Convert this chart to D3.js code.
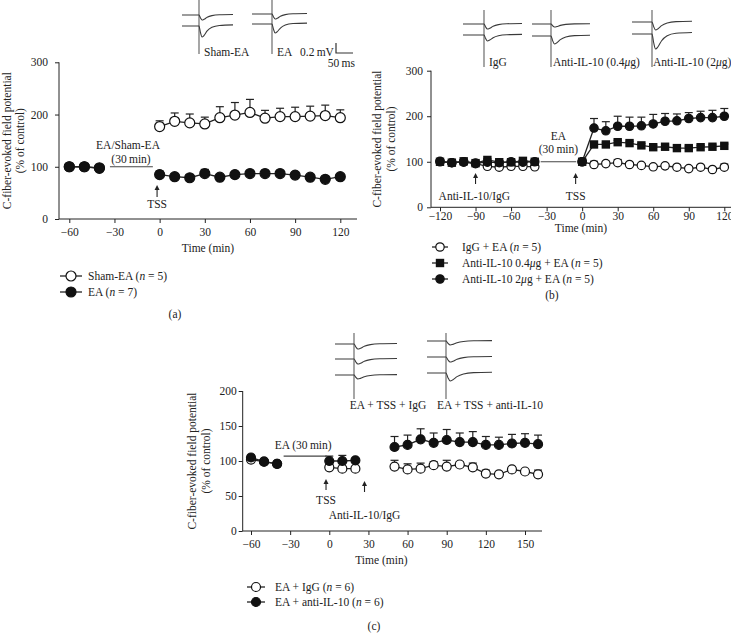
<!DOCTYPE html>
<html><head><meta charset="utf-8">
<script src="https://cdn.jsdelivr.net/npm/d3@7"></script>
<style>
body{margin:0;background:#fff}
text{font-family:"Liberation Serif","Times New Roman",serif;fill:#222;font-size:11.5px}
</style>
</head><body>
<svg id="c" width="731" height="644" xmlns="http://www.w3.org/2000/svg"></svg>
<script>
// ---------------- DATA ----------------
// Panel (a)
const timesA = [-60,-50,-40,0,10,20,30,40,50,60,70,80,90,100,110,120];
const shamA    = [100,100,98,177,187,184,182,194,199,204,193,196,196,197,198,194];
const shamAErr = [0,0,0,11,16,17,13,21,24,25,15,16,18,19,20,15];
const eaA      = [100,100,97,85,81,79,87,80,85,87,87,87,84,80,76,81];
const eaAErr   = [3,3,3,7,6,6,8,4,6,5,6,5,5,3,3,3];
const xTicksA = [-60,-30,0,30,60,90,120];
const yTicksA = [0,100,200,300];

// Panel (b)
const timesB = [-120,-110,-100,-90,-80,-70,-60,-50,-40,0,10,20,30,40,50,60,70,80,90,100,110,120];
const iggB      = [100,98,99,96,90,88,90,90,89,100,94,96,98,94,92,89,91,88,85,88,83,88];
const iggBErr   = [3,3,3,3,3,3,3,3,3,3,7,5,7,4,4,4,4,4,4,4,4,7];
const anti04B   = [100,98,101,97,104,99,99,102,100,100,138,138,143,141,136,132,133,130,130,132,133,135];
const anti04BErr= [3,2,3,3,3,3,3,3,3,3,5,4,4,4,4,4,4,4,4,4,4,4];
const anti2B    = [101,98,100,97,99,98,100,99,100,100,174,168,178,178,179,183,189,190,195,197,197,200];
const anti2BErr = [3,3,3,3,3,3,3,3,3,3,21,20,22,20,19,21,17,15,13,14,16,17];
const xTicksB = [-120,-90,-60,-30,0,30,60,90,120];
const yTicksB = [0,100,200,300];

// Panel (c)
const timesC = [-60,-50,-40,0,10,20,50,60,70,80,90,100,110,120,130,140,150,160];
const iggC     = [102,99,96,91,89,89,92,88,89,94,92,95,91,82,81,88,85,81];
const iggCErr  = [2,2,2,4,3,3,9,8,8,5,9,4,6,5,4,4,3,6];
const antiC    = [105,99,96,100,100,101,120,123,131,126,130,127,127,123,123,125,126,124];
const antiCErr = [3,3,3,7,8,3,15,14,15,14,15,13,15,12,11,13,13,13];
const xTicksC = [-60,-30,0,30,60,90,120,150];
const yTicksC = [0,50,100,150,200];

// Example trace shape (relative to stimulus), shared by insets
const traceShapeT = [-1,0,0.04,0.09,0.15,0.24,0.38,0.6,1];
const traceShapeV = [0,0,0.55,1.0,0.85,0.45,0.12,-0.05,-0.1];

// ---------------- DRAW ----------------
const svg = d3.select("#c");
const INK = "#222";

function panel(cfg){
  const g = svg.append("g");
  const x = d3.scaleLinear().domain(cfg.xd).range(cfg.xr);
  const y = d3.scaleLinear().domain(cfg.yd).range(cfg.yr);
  const x0 = cfg.axisX0, x1 = cfg.axisX1;
  const ax = g.append("g").attr("transform",`translate(0,${y(0)})`)
    .call(d3.axisBottom(x).tickValues(cfg.xt).tickSize(4).tickSizeOuter(0).tickPadding(cfg.xtPad).tickFormat(d=>d<0?"\u2212"+(-d):d));
  ax.select(".domain").remove();
  ax.selectAll("line").attr("stroke",INK);
  ax.selectAll("text").attr("font-size","11.5px").attr("font-family",null);
  g.append("line").attr("x1",x0).attr("x2",x1).attr("y1",y(0)).attr("y2",y(0)).attr("stroke",INK);
  const ay = g.append("g").attr("transform",`translate(${x0},0)`)
    .call(d3.axisLeft(y).tickValues(cfg.yt).tickSize(4).tickSizeOuter(0).tickPadding(cfg.ytPad));
  ay.select(".domain").remove();
  ay.selectAll("line").attr("stroke",INK);
  ay.selectAll("text").attr("font-size","11.5px").attr("font-family",null);
  g.append("line").attr("x1",x0).attr("x2",x0).attr("y1",y(cfg.yd[1])).attr("y2",y(0)).attr("stroke",INK);
  g.append("text").attr("x",(x0+x1)/2+cfg.xtOff).attr("y",y(0)+cfg.xtDy).attr("text-anchor","middle").text("Time (min)");
  const ly = (y(0)+y(cfg.yd[1]))/2;
  g.append("text").attr("transform",`translate(${cfg.yl1},${ly}) rotate(-90)`).attr("text-anchor","middle").text("C-fiber-evoked field potential");
  g.append("text").attr("transform",`translate(${cfg.yl2},${ly}) rotate(-90)`).attr("text-anchor","middle").text("(% of control)");

  cfg.series.forEach(s=>{
    const pts = cfg.t.map((t,i)=>({t,v:s.v[i],e:s.e[i]}));
    const segs=[]; let cur=[];
    pts.forEach((p,i)=>{ if(i>0 && p.t-pts[i-1].t>10){segs.push(cur);cur=[];} cur.push(p);});
    segs.push(cur);
    const line = d3.line().x(d=>x(d.t)).y(d=>y(d.v));
    pts.forEach(p=>{
      if(!p.e) return;
      g.append("line").attr("x1",x(p.t)).attr("x2",x(p.t)).attr("y1",y(p.v)).attr("y2",y(p.v+p.e)).attr("stroke",INK).attr("stroke-width",1.2);
      g.append("line").attr("x1",x(p.t)-cfg.cap).attr("x2",x(p.t)+cfg.cap).attr("y1",y(p.v+p.e)).attr("y2",y(p.v+p.e)).attr("stroke",INK).attr("stroke-width",1.2);
    });
    segs.forEach(sg=>g.append("path").attr("d",line(sg)).attr("fill","none").attr("stroke",INK).attr("stroke-width",1.3));
    pts.forEach(p=>marker(g,s.m,x(p.t),y(p.v),cfg.r));
  });

  const a = cfg.ann;
  g.append("line").attr("x1",x(a.l0)).attr("x2",x(a.l1)).attr("y1",y(a.lv)).attr("y2",y(a.lv)).attr("stroke","#444").attr("stroke-width",1.2);
  a.texts.forEach(t=>g.append("text").attr("x",x(t.t)).attr("y",t.y).attr("text-anchor","middle").text(t.s));
  a.arrows.forEach(r=>arrow(g,x(r.t),r.y0,r.y1));

  cfg.legend.forEach((l,i)=>{
    const ly=cfg.legY[i];
    g.append("line").attr("x1",cfg.legX).attr("x2",cfg.legX+cfg.legW).attr("y1",ly).attr("y2",ly).attr("stroke",INK).attr("stroke-width",1.3);
    marker(g,l.m,cfg.legX+cfg.legW/2,ly,cfg.r);
    const tx=g.append("text").attr("x",cfg.legX+cfg.legW+cfg.legGap).attr("y",ly+4);
    l.parts.forEach(p=>tx.append("tspan").attr("font-style",p[1]?"italic":null).text(p[0]));
  });
  g.append("text").attr("x",cfg.letter[0]).attr("y",cfg.letter[1]).attr("text-anchor","middle").text(cfg.letter[2]);
  return g;
}

function marker(g,m,cx,cy,r){
  if(m==="sq"){
    g.append("rect").attr("x",cx-r).attr("y",cy-r).attr("width",2*r).attr("height",2*r).attr("fill","#111");
  } else {
    g.append("circle").attr("cx",cx).attr("cy",cy).attr("r",r)
      .attr("fill",m==="open"?"#fff":"#111").attr("stroke","#111").attr("stroke-width",1.2);
  }
}
function arrow(g,x,y0,y1){
  g.append("line").attr("x1",x).attr("x2",x).attr("y1",y0+2).attr("y2",y1).attr("stroke","#222").attr("stroke-width",1.1);
  g.append("path").attr("d",`M${x-2.5},${y0+4}L${x},${y0-1}L${x+2.5},${y0+4}Z`).attr("fill","#222");
}

function traces(groups){
  groups.forEach(gr=>{
    svg.append("line").attr("x1",gr.stim).attr("x2",gr.stim).attr("y1",gr.sy0).attr("y2",gr.sy1).attr("stroke","#777").attr("stroke-width",1.3);
    gr.base.forEach((b,i)=>{
      const d = gr.depth[i];
      const xs = traceShapeT.map(t=>t<0? gr.stim + t*(gr.stim-gr.x0) : gr.stim + t*(gr.x1-gr.stim));
      const ys = traceShapeV.map(v=>b+v*d);
      const pts = xs.map((xx,k)=>[xx,ys[k]]);
      svg.append("path").attr("d",d3.line().curve(d3.curveMonotoneX)(pts)).attr("fill","none").attr("stroke","#3a3a3a").attr("stroke-width",1.1);
    });
    if(gr.label){
      const t=svg.append("text").attr("x",gr.lx).attr("y",gr.ly).attr("text-anchor",gr.anchor||"start");
      gr.label.forEach(p=>t.append("tspan").attr("font-style",p[1]?"italic":null).text(p[0]));
    }
  });
}

// ---- Panel (a)
panel({
  xd:[-60,120], xr:[69.3,340.3], yd:[0,300], yr:[219,62.3],
  axisX0:59, axisX1:357, xt:xTicksA, yt:yTicksA, xtOff:0, xtDy:33, xtPad:5, ytPad:7,
  yl1:11, yl2:24, r:5, cap:4, t:timesA,
  series:[{m:"open",v:shamA,e:shamAErr},{m:"fill",v:eaA,e:eaAErr}],
  ann:{l0:-33,l1:-4.5,lv:100,
       texts:[{t:-21,y:149,s:"EA/Sham-EA"},{t:-19,y:163,s:"(30\u2009min)"},{t:-1.7,y:208,s:"TSS"}],
       arrows:[{t:-1.7,y0:186,y1:197}]},
  legX:60, legW:22, legGap:6, legY:[276,292],
  legend:[{m:"open",parts:[["Sham-EA ("],["n",1],[" = 5)"]]},{m:"fill",parts:[["EA ("],["n",1],[" = 7)"]]}],
  letter:[175,318,"(a)"]
});
traces([
  {stim:199,sy0:0,sy1:54,x0:182,x1:233,base:[15,26],depth:[5,11],label:[["Sham-EA"]],lx:204,ly:56},
  {stim:272,sy0:0,sy1:54,x0:252,x1:307,base:[14,24],depth:[5,9],label:[["EA"]],lx:277,ly:56}
]);
svg.append("text").attr("x",300).attr("y",56).text("0.2\u2009mV");
svg.append("path").attr("d","M336,43V53H353").attr("fill","none").attr("stroke","#333").attr("stroke-width",1.2);
svg.append("text").attr("x",355).attr("y",67).attr("text-anchor","end").text("50\u2009ms");

// ---- Panel (b)
panel({
  xd:[-120,120], xr:[440,724.3], yd:[0,300], yr:[207.3,70.7],
  axisX0:431, axisX1:731, xt:xTicksB, yt:yTicksB, xtOff:0, xtDy:25, xtPad:1, ytPad:4,
  yl1:381, yl2:395, r:4.2, cap:4, t:timesB,
  series:[{m:"open",v:iggB,e:iggBErr},{m:"fill",v:anti2B,e:anti2BErr},{m:"sq",v:anti04B,e:anti04BErr}],
  ann:{l0:-35,l1:-5,lv:100,
       texts:[{t:-20,y:140,s:"EA"},{t:-20,y:153,s:"(30\u2009min)"},{t:-5.5,y:200,s:"TSS"},{t:-91,y:200,s:"Anti-IL-10/IgG"}],
       arrows:[{t:-5.5,y0:174,y1:184},{t:-90,y0:174,y1:184}]},
  legX:432, legW:16, legGap:14, legY:[247,263,279],
  legend:[{m:"open",parts:[["IgG + EA ("],["n",1],[" = 5)"]]},
          {m:"sq",parts:[["Anti-IL-10 0.4"],["\u03bc",1],["g + EA ("],["n",1],[" = 5)"]]},
          {m:"fill",parts:[["Anti-IL-10 2"],["\u03bc",1],["g + EA ("],["n",1],[" = 5)"]]}],
  letter:[552,299,"(b)"]
});
traces([
  {stim:484,sy0:10,sy1:67,x0:463,x1:522,base:[24,35],depth:[5,6],label:[["IgG"]],lx:489,ly:66},
  {stim:551,sy0:10,sy1:67,x0:532,x1:590,base:[24,36],depth:[3,8],label:[["Anti-IL-10 (0.4"],["\u03bc",1],["g)"]],lx:553,ly:66},
  {stim:652,sy0:10,sy1:67,x0:632,x1:692,base:[22,34],depth:[8,15],label:[["Anti-IL-10 (2"],["\u03bc",1],["g)"]],lx:653,ly:66}
]);

// ---- Panel (c)
panel({
  xd:[-60,150], xr:[251,525], yd:[0,200], yr:[531,391],
  axisX0:242.7, axisX1:542, xt:xTicksC, yt:yTicksC, xtOff:-11, xtDy:33, xtPad:5, ytPad:2,
  yl1:196, yl2:210, r:4.5, cap:4, t:timesC,
  series:[{m:"open",v:iggC,e:iggCErr},{m:"fill",v:antiC,e:antiCErr}],
  ann:{l0:-35,l1:-2,lv:107,
       texts:[{t:-20,y:449,s:"EA (30\u2009min)"},{t:-2.5,y:504,s:"TSS"},{t:27,y:519,s:"Anti-IL-10/IgG"}],
       arrows:[{t:-2.5,y0:480,y1:490},{t:27,y0:482,y1:492}]},
  legX:247, legW:18, legGap:10, legY:[587,602],
  legend:[{m:"open",parts:[["EA + IgG ("],["n",1],[" = 6)"]]},{m:"fill",parts:[["EA + anti-IL-10 ("],["n",1],[" = 6)"]]}],
  letter:[374,630,"(c)"]
});
traces([
  {stim:354,sy0:333,sy1:399,x0:335,x1:397,base:[344,359,375],depth:[5,5,4],label:[["EA + TSS + IgG"]],lx:388,ly:409,anchor:"middle"},
  {stim:446,sy0:333,sy1:399,x0:427,x1:492,base:[341,357,373],depth:[4,5,8],label:[["EA + TSS + anti-IL-10"]],lx:490,ly:409,anchor:"middle"}
]);
</script>
</body></html>
